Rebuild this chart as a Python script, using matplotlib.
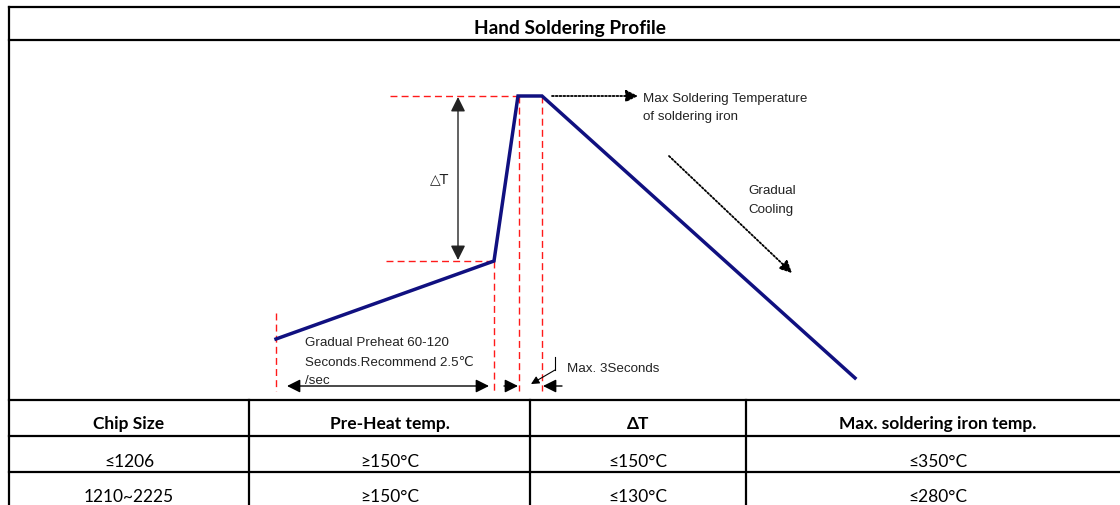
import matplotlib.pyplot as plt

# soldering profile (pixel-like units of the drawing, y grows downward)
profile_x = [276, 494, 518, 542, 855]
profile_y = [340, 262, 97, 97, 379]

peak_y = 97
preheat_y = 262

# table contents
col_edges = [9, 249, 530, 746, 1130]
row_edges = [401, 437, 473, 509]
headers = ['Chip Size', 'Pre-Heat temp.', 'ΔT', 'Max. soldering iron temp.']
chip_sizes = ['≤1206', '1210~2225']
preheat_temps = ['≥150°C', '≥150°C']
delta_t = ['≤150°C', '≤130°C']
max_iron = ['≤350°C', '≤280°C']

navy = '#101080'
red = '#ff1a1a'
arial = 'Liberation Sans'
calibri = ['Lato', 'DejaVu Sans']

fig = plt.figure(figsize=(11.2, 5.06), dpi=100)
ax = fig.add_axes([0, 0, 1, 1])
ax.set_xlim(0, 1120)
ax.set_ylim(506, 0)
ax.axis('off')

# frame and title
lw_box = 1.6
ax.plot([col_edges[0], 1125], [7.5, 7.5], color='black', lw=lw_box)
ax.plot([col_edges[0], 1125], [41, 41], color='black', lw=lw_box)
ax.plot([col_edges[0], col_edges[0]], [7.5, 510], color='black', lw=lw_box)
ax.text(570, 28, 'Hand Soldering Profile', ha='center', va='center',
        fontsize=13.8, fontweight='bold', family=calibri)

# red dashed guide lines
dash = dict(color=red, lw=1.0, ls=(0, (5, 3)))
ax.plot([390, profile_x[2]], [peak_y, peak_y], **dash)
ax.plot([386, profile_x[1]], [preheat_y, preheat_y], **dash)
ax.plot([profile_x[0], profile_x[0]], [314, 392], **dash)
ax.plot([profile_x[1], profile_x[1]], [preheat_y, 392], **dash)
ax.plot([profile_x[2] + 1, profile_x[2] + 1], [peak_y, 392], **dash)
ax.plot([profile_x[3], profile_x[3]], [peak_y, 392], **dash)

# profile curve
ax.plot(profile_x, profile_y, color=navy, lw=2.5, solid_joinstyle='miter',
        zorder=5)


def arrow(start, end, style='-|>', lw=1.0, ls='-', scale=20, color='black'):
    ax.annotate('', xy=end, xytext=start,
                arrowprops=dict(arrowstyle=style, color=color, lw=lw, ls=ls,
                                mutation_scale=scale, shrinkA=0, shrinkB=0))


# delta T arrow
arrow((458, preheat_y - 1), (458, peak_y + 1), style='<|-|>',
      color='#222222', scale=22)
ax.text(440, 179, '△T', ha='center', va='center', fontsize=10,
        family=['DejaVu Sans'], color='#222222')

# bottom time arrows
arrow((489, 387), (287, 387), style='<|-|>', scale=20)
arrow((504, 387), (518, 387), scale=20)
arrow((562, 387), (543, 387), scale=20)
ax.plot([555, 555], [358, 371], color='black', lw=0.8)
arrow((555, 371), (531, 385), lw=0.8, scale=12)

# dotted arrows
arrow((552, peak_y), (638, peak_y), lw=1.3, ls=(0, (1, 1.1)), scale=18)
arrow((669, 157), (792, 274), lw=1.3, ls=(0, (1, 1.1)), scale=18)

# annotation texts
txt = dict(fontsize=9.6, family=arial, color='#222222', va='center', ha='left')
ax.text(643, 98.5, 'Max Soldering Temperature', **txt)
ax.text(643, 116.5, 'of soldering iron', **txt)
ax.text(748, 190.5, 'Gradual', **txt)
ax.text(748, 209.5, 'Cooling', **txt)
ax.text(305, 343.5, 'Gradual Preheat 60-120', **txt)
ax.text(305, 362.5, 'Seconds.Recommend 2.5℃', fontsize=9.6, color='#222222',
        va='center', ha='left', family=[arial, 'DejaVu Sans'])
ax.text(305, 381.5, '/sec', **txt)
ax.text(567, 368.5, 'Max. 3Seconds', **txt)

# table grid
for y in row_edges[:-1]:
    ax.plot([col_edges[0], 1125], [y, y], color='black', lw=lw_box)
for x in col_edges[1:-1]:
    ax.plot([x, x], [row_edges[0], 510], color='black', lw=lw_box)

centers = [(a + b) / 2 for a, b in zip(col_edges[:-1], col_edges[1:])]
for cx, h in zip(centers, headers):
    ax.text(cx, 424, h, ha='center', va='center', fontsize=12.5,
            fontweight='bold', family=calibri)

columns = [chip_sizes, preheat_temps, delta_t, max_iron]
row_text_y = [462, 497]
for cx, col in zip(centers, columns):
    for ty, val in zip(row_text_y, col):
        ax.text(cx, ty, val, ha='center', va='center', fontsize=12.5,
                family=calibri)

fig.savefig('out.png', dpi=100)
